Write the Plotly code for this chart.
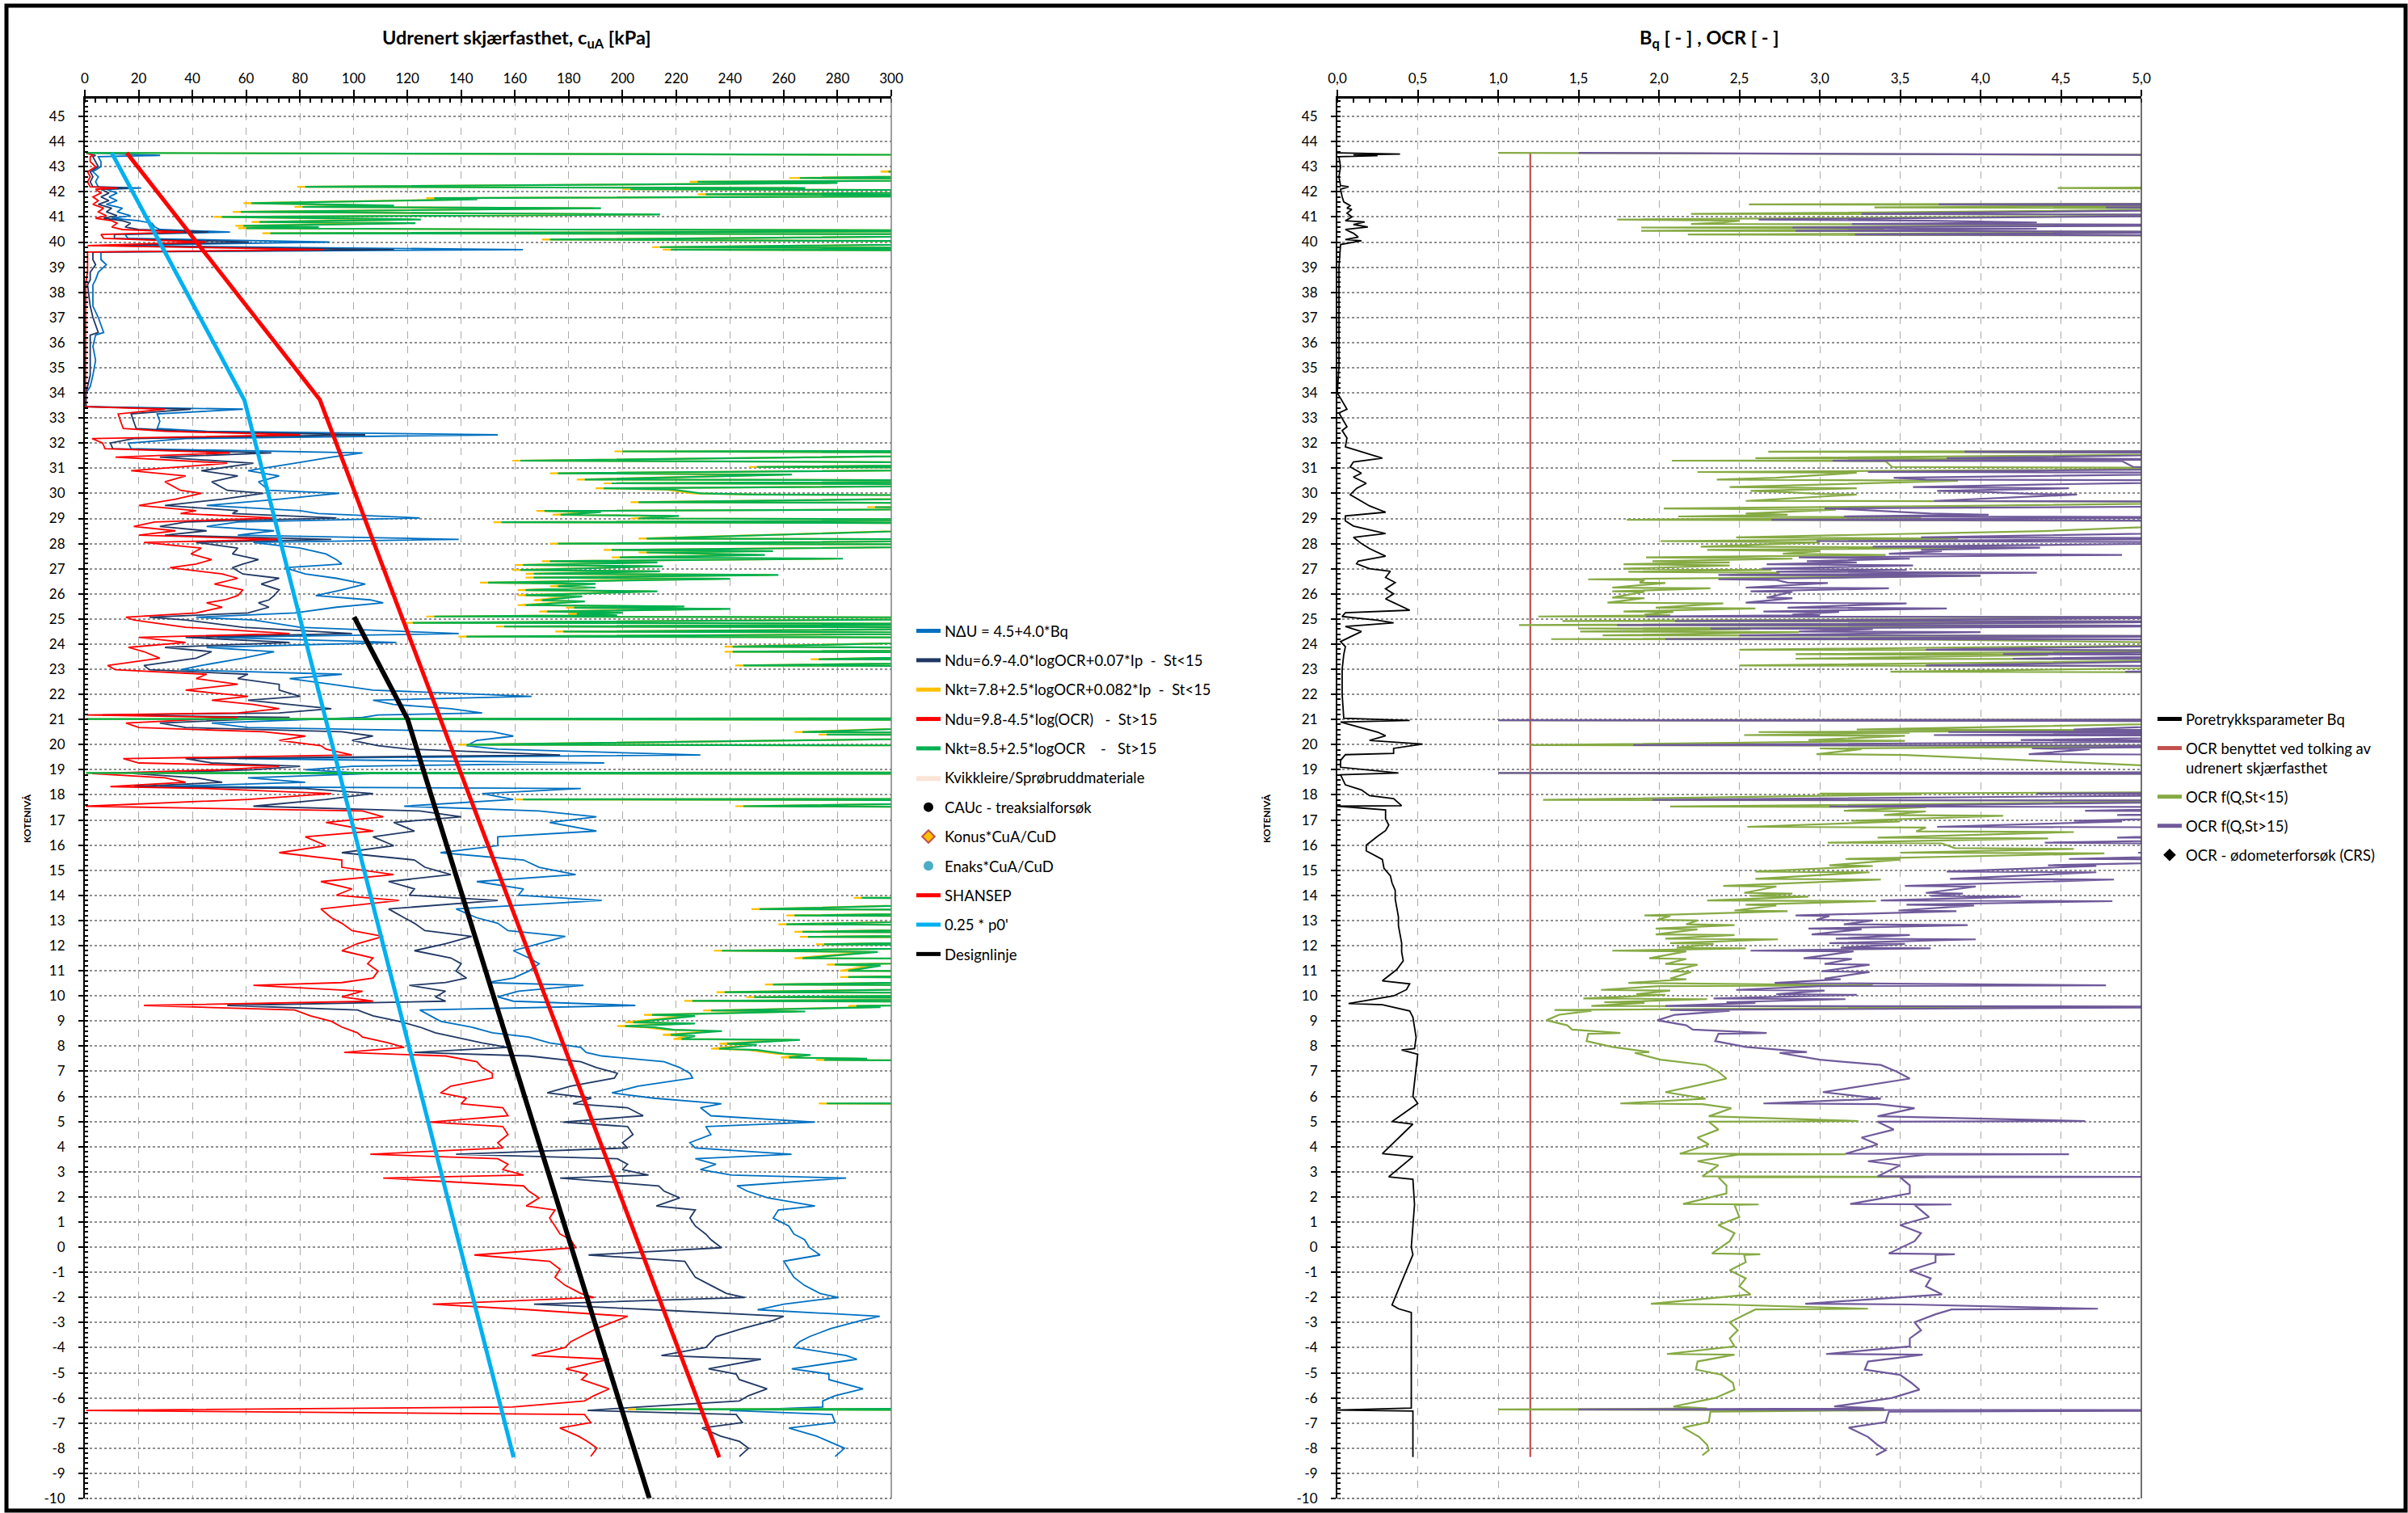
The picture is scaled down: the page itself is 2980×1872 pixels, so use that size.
import plotly.graph_objects as go

# ---------------- LEFT PANEL DATA (undrained shear strength, kPa) ----------------
cu_z = [43.55, 43.45, 43.4, 43.2, 43.0, 42.8, 42.6, 42.4, 42.2, 42.15, 42.1, 41.95, 41.8, 41.65, 41.5,
        41.35, 41.2, 41.05, 40.95, 40.85, 40.75, 40.6, 40.5, 40.4, 40.3, 40.15, 40.0, 39.86, 39.7, 39.6,
        39.3, 39.1, 38.8, 38.5, 38.3, 37.45, 37.0, 36.4, 36.3, 35.85, 35.3, 34.7, 34.25, 34.0, 33.45,
        33.35, 33.16, 32.87, 32.58, 32.47, 32.33, 32.18, 32.0, 31.78, 31.61, 31.44, 31.2, 30.9, 30.69,
        30.46, 30.12, 30.0, 29.77, 29.52, 29.31, 29.2, 29.02, 28.86, 28.68, 28.51, 28.34, 28.17, 28.05,
        27.82, 27.59, 27.36, 27.19, 27.04, 26.79, 26.62, 26.39, 26.16, 25.93, 25.76, 25.64, 25.47, 25.24,
        25.07, 24.96, 24.67, 24.42, 24.27, 24.07, 23.87, 23.7, 23.44, 23.15, 22.98, 22.8, 22.63, 22.4,
        22.17, 21.92, 21.77, 21.6, 21.43, 21.26, 21.18, 21.08, 20.86, 20.68, 20.51, 20.34, 20.17, 19.96,
        19.82, 19.59, 19.44, 19.27, 19.14, 19.0, 18.85, 18.68, 18.5, 18.33, 18.25, 18.05, 17.82, 17.55,
        17.36, 17.13, 16.9, 16.56, 16.33, 15.98, 15.7, 15.41, 15.12, 14.83, 14.55, 14.26, 14.01, 13.8,
        13.46, 13.11, 12.89, 12.6, 12.37, 12.08, 11.8, 11.51, 11.28, 10.99, 10.71, 10.53, 10.42, 10.19,
        9.96, 9.79, 9.62, 9.44, 9.21, 8.99, 8.76, 8.53, 8.36, 8.13, 7.95, 7.75, 7.61, 7.38, 7.15, 6.92,
        6.73, 6.41, 6.14, 5.93, 5.71, 5.55, 5.23, 4.98, 4.8, 4.48, 4.16, 3.95, 3.7, 3.52, 3.3, 3.09,
        2.87, 2.75, 2.44, 2.23, 1.96, 1.64, 1.48, 1.16, 0.84, 0.52, 0.3, -0.02, -0.31, -0.56, -0.88,
        -1.2, -1.52, -1.84, -2.0, -2.27, -2.49, -2.75, -2.91, -3.24, -3.56, -3.77, -3.99, -4.31, -4.46,
        -4.84, -5.05, -5.27, -5.64, -5.91, -6.12, -6.36, -6.5, -6.66, -6.98, -7.2, -7.52, -7.73, -8.0,
        -8.33]

cu_nkt_bq = [0.5, 28, 5, 6, 6, 3, 5, 4, 5, 21, 8, 12, 9, 12, 8,
             14, 12, 17, 10, 20, 25, 26, 28, 54, 15, 16, 91, 7, 163, 6,
             6, 8, 5, 4, 3, 3, 5, 7, 4, 3, 4, 3, 2, 0.5, 0.5,
             58.8, 26.9, 27.9, 26.9, 45.3, 153.6, 37.5, 16.2, 17.2, 103.3, 91.7, 78.1, 60.7, 72.3,
             64.6, 68.5, 94.6, 72.3, 45.3, 80.1, 86.8, 124.6, 56.9, 45.3, 70.4, 56.9, 139.1, 62.7,
             80.1, 89.7, 93.6, 95.6, 74.3, 82.0, 93.6, 104.3, 95.6, 85.9, 106.2, 111.0, 93.6, 78.1,
             41.4, 62.7, 80.1, 139.1, 49.1, 115.9, 45.3, 70.4, 58.8, 43.3, 35.6, 95.6, 76.2, 91.7,
             107.2, 166.2, 107.2, 114.9, 136.2, 147.8, 109.1, 103.3, 47.2, 60.7, 151.6, 159.4, 145.8, 142.0,
             153.6, 229.0, 56.9, 193.2, 99.4, 82.0, 106.2, 60.7, 82.0, 27.9, 184.5, 147.8, 159.4, 118.8,
             169.0, 190.3, 172.9, 190.3, 153.6, 153.6, 132.3, 163.2, 169.0, 182.6, 145.8, 163.2, 161.3, 192.3,
             138.1, 145.8, 153.6, 157.4, 178.7, 169.0, 159.4, 165.2, 169.0, 165.2, 159.4, 149.7, 185.5, 161.3,
             153.6, 159.4, 204.8, 124.6, 128.4, 132.3, 143.9, 151.6, 165.2, 172.9, 184.5, 186.5, 192.3, 215.5, 221.3, 225.1,
             226.1, 205.8, 196.1, 211.6, 236.8, 229.0, 232.9, 271.6, 231.0, 232.9, 225.1, 227.1, 262.9, 227.1, 234.8, 229.0,
             240.6, 283.2, 242.6, 246.4, 254.2, 271.6, 258.0, 256.1, 261.9, 263.8, 267.7, 269.6, 273.5, 260.0, 261.9,
             263.8, 267.7, 273.5, 280.3, 260.0, 250.3, 295.7, 289.0, 277.4, 269.6, 265.8, 263.8, 283.2, 287.2,
             263.0, 276.8, 276.8, 289.5, 279.1, 274.5, 274.5, 240.0, 278.0, 279.1, 261.9, 272.2, 276.8, 282.6,
             279.1]

cu_ndu_lt15 = [0.5, 4, 3, 4, 5, 2, 3, 2, 3, 16, 6, 9, 6, 9, 5,
               10, 8, 12, 7, 14, 17, 15, 20, 46, 11, 11, 61, 5, 115, 3,
               3, 4, 2, 2, 1, 2, 3, 5, 2, 2, 2, 2, 1, 0.3, 0.3,
               39.5, 17.2, 18.2, 19.1, 37.5, 104.3, 18.2, 9.5, 10.4, 69.4, 27.9, 62.7, 43.3, 56.9,
               47.2, 53.0, 66.5, 51.1, 29.8, 56.9, 54.9, 93.6, 37.5, 27.9, 45.3, 29.8, 91.7, 41.4,
               56.9, 54.9, 64.6, 58.8, 54.9, 58.8, 72.3, 65.6, 72.3, 70.4, 68.5, 64.6, 68.5, 60.7,
               24.0, 37.5, 58.8, 99.4, 37.5, 76.2, 29.8, 47.2, 41.4, 22.0, 24.0, 60.7, 56.9, 72.3,
               72.3, 80.1, 60.7, 76.2, 91.7, 72.3, 6.6, 76.2, 27.9, 37.5, 95.6, 107.2, 99.4, 109.1,
               120.7, 176.8, 37.5, 47.2, 80.1, 62.7, 18.2, 41.4, 51.1, 18.2, 82.0, 107.2, 89.7, 62.7,
               124.6, 140.0, 114.9, 122.6, 107.2, 114.9, 95.6, 122.6, 126.5, 136.2, 113.0, 122.6, 120.7, 153.6,
               113.0, 118.8, 122.6, 126.5, 143.9, 134.2, 122.6, 136.2, 140.0, 138.1, 142.0, 134.2, 120.7, 134.2,
               130.4, 134.2, 53.0, 101.4, 107.2, 116.8, 124.6, 130.4, 138.1, 147.8, 157.4, 122.6, 165.2, 184.5, 190.3, 198.1,
               197.0, 180.7, 172.0, 188.4, 181.6, 201.9, 207.7, 177.8, 201.9, 203.9, 200.0, 201.9, 138.1, 198.1, 201.9, 200.0,
               209.7, 176.8, 213.5, 215.5, 221.3, 212.6, 227.1, 225.1, 227.1, 231.0, 232.9, 236.8, 187.4, 223.2, 225.1,
               227.1, 232.9, 238.7, 245.5, 167.1, 211.6, 260.0, 256.1, 244.5, 234.8, 232.9, 231.0, 214.5, 251.5,
               232.0, 242.3, 243.5, 253.8, 246.9, 243.5, 206.0, 187.0, 242.3, 244.6, 229.6, 236.5, 243.5, 246.9,
               243.5]

cu_ndu_gt15 = [0.5, 3, 2, 2, 4, 1, 2, 1, 2, 12, 4, 6, 3, 5, 3,
               7, 5, 8, 4, 10, 12, 10, 14, 37, 6, 7, 45, 1, 89, 1,
               1, 1, 1, 0.5, 0.3, 0.3, 0.3, 0.3, 0.3, 0.3, 0.3, 0.3, 0.2, 0.2, 0.2,
               29.8, 12.4, 13.3, 14.3, 29.8, 80.1, 2.7, 6.6, 7.5, 54.0, 11.4, 53.0, 17.2, 37.5,
               29.8, 35.6, 43.3, 33.7, 20.1, 41.4, 35.6, 70.4, 25.9, 18.2, 33.7, 20.1, 72.3, 22.0,
               43.3, 39.5, 47.2, 41.4, 31.7, 51.1, 56.9, 48.2, 58.8, 56.9, 52.0, 45.3, 51.1, 41.4,
               15.3, 18.2, 37.5, 76.2, 20.1, 37.5, 16.2, 22.0, 27.9, 8.5, 11.4, 45.3, 41.4, 56.9,
               37.5, 60.7, 47.2, 62.7, 72.3, 56.9, 0.8, 56.9, 15.3, 20.1, 66.5, 82.0, 72.3, 87.8,
               89.7, 99.4, 14.3, 20.1, 72.3, 51.1, 2.7, 29.8, 37.5, 9.5, 45.3, 91.7, 60.7, 0.4,
               103.3, 111.0, 89.7, 107.2, 82.0, 89.7, 72.3, 95.6, 95.6, 114.9, 87.8, 99.4, 93.6, 116.8,
               87.8, 91.7, 95.6, 99.4, 111.0, 101.4, 95.6, 107.2, 105.2, 109.1, 107.2, 95.6, 62.7, 103.3,
               95.6, 107.2, 22.0, 78.1, 83.9, 91.7, 95.6, 101.4, 103.3, 113.0, 118.8, 96.5, 134.2, 145.8, 147.8, 151.6,
               151.6, 136.2, 132.3, 142.0, 140.0, 155.5, 157.4, 128.4, 155.5, 157.4, 153.6, 155.5, 106.2, 153.6, 157.4, 155.5,
               163.2, 111.0, 163.2, 165.2, 169.0, 164.2, 174.9, 172.9, 174.9, 176.8, 180.7, 182.6, 144.9, 172.9, 176.8,
               174.9, 178.7, 184.5, 189.4, 129.4, 165.2, 201.9, 198.1, 190.3, 184.5, 180.7, 178.7, 166.2, 195.0,
               179.0, 187.0, 184.8, 195.0, 189.4, 185.9, 159.0, 0.5, 185.9, 188.2, 176.7, 183.6, 187.0, 190.5,
               188.2]

# Nkt-based profiles (values above 300 run off the chart)
nkt_z = [43.55, 43.45, 42.8, 42.75, 42.55, 42.5, 42.4, 42.35, 42.2, 42.15, 42.1, 42.05, 41.9, 41.85,
         41.75, 41.7, 41.55, 41.45, 41.4, 41.35, 41.2, 41.1, 41.0, 40.9, 40.8, 40.75, 40.65, 40.6, 40.55,
         40.5, 40.45, 40.35, 40.3, 40.1, 40.0, 39.8, 39.75, 39.7, 39.65,
         31.7, 31.67, 31.6, 31.3, 31.25, 31.2, 31.05, 31.0, 30.8, 30.75, 30.55, 30.5, 30.4, 30.35, 30.2, 30.15,
         30.0, 29.95, 29.9, 29.65, 29.6, 29.45, 29.4, 29.3, 29.25, 29.15, 29.1, 29.0, 28.95, 28.85, 28.8,
         28.2, 28.15, 28.0, 27.95, 27.75, 27.7, 27.65, 27.55, 27.45, 27.4, 27.3, 27.25, 27.15, 27.1, 26.95,
         26.9, 26.8, 26.75, 26.65, 26.6, 26.45, 26.4, 26.3, 26.25, 26.15, 26.1, 25.95, 25.9, 25.75, 25.7,
         25.55, 25.5, 25.45, 25.4, 25.3, 25.25, 25.2, 25.15, 25.1, 25.05, 24.85, 24.8, 24.7, 24.65, 24.5,
         24.45, 24.3, 24.25, 23.9, 23.8, 23.7, 23.65, 23.4, 23.35, 23.15, 23.1, 21.05, 21.02, 20.98, 20.5, 20.45,
         20.4, 20.35, 20.0, 19.95, 18.9, 18.87, 18.83, 17.85, 17.82, 17.78, 17.55, 17.5, 13.93, 13.9, 13.85, 13.45, 13.4,
         13.2, 13.15, 12.85, 12.8, 12.55, 12.5, 12.35, 12.3, 12.05, 12.0, 11.8, 11.75, 11.5, 11.45, 11.25,
         11.2, 11.0, 10.95, 10.75, 10.7, 10.45, 10.4, 10.15, 10.1, 9.95, 9.9, 9.8, 9.75, 9.6, 9.55, 9.42,
         9.38, 9.25, 9.2, 8.95, 8.9, 8.8, 8.75, 8.65, 8.6, 8.45, 8.4, 8.28, 8.25, 8.1, 8.05, 7.9, 7.85,
         7.7, 7.65, 7.55, 7.5, 7.45, 7.4, 5.75, 5.72, 5.68, -6.42, -6.45, -6.5, -8.33]

cu_nkt_gt15 = [0.5, 400, 299, 400, 266, 400, 228, 280, 82, 268, 203, 400, 231, 400,
               130, 146, 62, 115, 81, 192, 58, 214, 51, 125, 65, 123, 59, 87, 60,
               174, 400, 69, 400, 173, 400, 214, 400, 218, 400,
               400, 200, 400, 162, 248, 400, 250, 400, 176, 263, 186, 400, 196, 400, 193, 219,
               229, 250, 400, 206, 400, 294, 400, 171, 192, 177, 221, 206, 400, 155, 400,
               209, 400, 176, 400, 196, 256, 209, 253, 199, 282, 173, 213, 163, 215, 162,
               214, 167, 258, 167, 240, 150, 190, 176, 190, 164, 213, 164, 185, 170, 186,
               164, 223, 182, 240, 172, 200, 183, 198, 130, 400, 122, 400, 156, 400, 178,
               400, 142, 400, 241, 400, 241, 400, 273, 400, 245, 400, 400, 0.5, 400, 267, 400,
               276, 400, 142, 400, 400, 0.5, 400, 400, 163, 400, 245, 400, 400, 289, 400, 251, 400,
               264, 400, 261, 400, 267, 400, 269, 400, 275, 400, 237, 295, 267, 400, 279,
               296, 284, 400, 284, 400, 256, 400, 238, 400, 249, 400, 226, 400, 287, 296, 233,
               268, 211, 227, 204, 227, 201, 212, 219, 237, 218, 227, 222, 266, 239, 250, 236, 250,
               260, 270, 262, 291, 275, 400, 400, 276, 400, 400, 205, 400, 400]

cu_nkt_lt15 = [0.5, 400, 296, 400, 262, 400, 225, 277, 79, 265, 200, 400, 228, 400,
               127, 143, 59, 112, 78, 189, 55, 211, 48, 122, 62, 120, 56, 84, 57,
               171, 400, 66, 400, 170, 400, 211, 400, 215, 400,
               400, 197, 400, 159, 245, 400, 247, 400, 173, 260, 183, 400, 193, 400, 190, 216,
               226, 247, 400, 203, 400, 291, 400, 168, 189, 174, 218, 203, 400, 152, 400,
               206, 400, 173, 400, 193, 253, 206, 250, 196, 279, 170, 210, 160, 212, 159,
               211, 164, 255, 164, 237, 147, 187, 173, 187, 161, 210, 161, 182, 167, 183,
               161, 220, 179, 237, 169, 197, 180, 195, 127, 400, 119, 400, 153, 400, 175,
               400, 139, 400, 238, 400, 238, 400, 270, 400, 242, 400, 400, 0.5, 400, 264, 400,
               273, 400, 139, 400, 400, 0.5, 400, 400, 160, 400, 242, 400, 400, 286, 400, 248, 400,
               261, 400, 258, 400, 264, 400, 266, 400, 272, 400, 234, 292, 264, 400, 276,
               293, 281, 400, 281, 400, 253, 400, 235, 400, 246, 400, 223, 400, 284, 293, 230,
               265, 208, 224, 201, 224, 198, 209, 216, 234, 215, 224, 219, 263, 236, 247, 233, 247,
               257, 267, 259, 288, 272, 400, 400, 273, 400, 400, 202, 400, 400]

# Interpreted design lines
shansep_z = [43.55, 33.73, -8.36]
shansep_cu = [15.6, 87.4, 236.0]
p0_z = [43.55, 33.7, -8.36]
p0_cu = [10.0, 59.4, 159.5]
design_z = [25.08, 21.0, -10.0]
design_cu = [100.2, 120.1, 210.0]

# ---------------- RIGHT PANEL DATA (Bq, OCR) ----------------
bq_z = [43.55, 43.5, 43.47, 43.44, 43.4, 43.0, 42.6, 42.25, 42.2, 42.1, 41.8, 41.6, 41.45, 41.35,
        41.3, 41.15, 41.0, 40.85, 40.8, 40.7, 40.6, 40.5, 40.35, 40.2, 40.1, 40.05, 39.9, 39.0, 37.0,
        35.0, 34.0, 33.35, 33.2, 32.65, 32.5, 32.2, 31.85, 31.65, 31.4, 31.25, 31.05, 30.8, 30.65, 30.4,
        30.2, 29.95, 29.7, 29.5, 29.25, 29.1, 28.9, 28.7, 28.4, 28.25, 28.0, 27.8, 27.5, 27.3, 27.2, 27.0,
        26.9, 26.65, 26.45, 26.2, 26.0, 25.8, 25.65, 25.5, 25.35, 25.25, 25.1, 24.95, 24.85, 24.7, 24.5,
        24.35, 24.1, 23.9, 23.58, 23.0, 22.0, 21.05, 20.96, 20.9, 20.6, 20.5, 20.35, 20.17, 20.02, 19.85,
        19.65, 19.6, 19.37, 19.1, 18.87, 18.8, 18.4, 18.2, 17.97, 17.85, 17.57, 17.55, 17.4, 17.04, 16.8,
        16.58, 16.35, 16.0, 15.77, 15.43, 15.08, 14.78, 14.5, 14.2, 13.85, 13.5, 13.15, 12.8, 12.45, 12.1,
        11.75, 11.4, 11.05, 10.6, 10.48, 10.25, 10.0, 9.7, 9.65, 9.55, 9.4, 9.15, 8.8, 8.35, 7.9, 7.85,
        7.68, 7.1, 6.0, 5.72, 5.0, 4.9, 3.72, 3.6, 2.8, 2.7, 1.7, 0.0, -0.3, -2.3, -2.45, -2.6, -4.3,
        -6.4, -6.48, -6.52, -8.35]
bq = [0.0, 0.39, 0.1, 0.25, 0.01, 0.02, 0.01, 0.02, 0.07, 0.02, 0.03, 0.04, 0.08, 0.06,
      0.09, 0.06, 0.09, 0.05, 0.17, 0.1, 0.19, 0.05, 0.1, 0.13, 0.05, 0.15, 0.02, 0.01, 0.01,
      0.01, 0.0, 0.06, 0.01, 0.06, 0.03, 0.06, 0.05, 0.15, 0.28, 0.1, 0.08, 0.15, 0.1, 0.18,
      0.12, 0.08, 0.15, 0.2, 0.3, 0.05, 0.05, 0.1, 0.3, 0.1, 0.15, 0.2, 0.3, 0.13, 0.12, 0.2,
      0.33, 0.3, 0.36, 0.3, 0.35, 0.3, 0.35, 0.4, 0.45, 0.05, 0.03, 0.25, 0.35, 0.05, 0.15,
      0.1, 0.02, 0.05, 0.04, 0.03, 0.03, 0.04, 0.45, 0.02, 0.2, 0.25, 0.3, 0.2, 0.53, 0.35,
      0.35, 0.05, 0.02, 0.02, 0.38, 0.02, 0.05, 0.15, 0.2, 0.35, 0.4, 0.0, 0.3, 0.3, 0.32,
      0.3, 0.25, 0.18, 0.18, 0.28, 0.29, 0.33, 0.34, 0.36, 0.36, 0.37, 0.38, 0.38, 0.39, 0.4,
      0.4, 0.41, 0.37, 0.28, 0.45, 0.43, 0.35, 0.07, 0.28, 0.35, 0.45, 0.47, 0.48, 0.49, 0.48, 0.4,
      0.5, 0.49, 0.47, 0.5, 0.34, 0.47, 0.28, 0.47, 0.32, 0.47, 0.48, 0.46, 0.47, 0.34, 0.38, 0.46, 0.46,
      0.46, 0.0, 0.47, 0.47]

ocr_used_z = [43.55, -8.35]
ocr_used = [1.2, 1.2]

ocr_z = [43.55, 43.45, 42.2, 42.15, 42.1, 41.53, 41.5, 41.45, 41.38, 41.33, 41.12, 41.08, 40.9, 40.85, 40.78,
         40.72, 40.68, 40.58, 40.53, 40.45, 40.4, 40.3, 40.25,
         31.69, 31.66, 31.6, 31.4, 31.35, 31.3, 31.28, 31.05, 31.0, 30.85, 30.82, 30.62, 30.55, 30.5, 30.35,
         30.25, 30.2, 30.1, 30.05, 29.98, 29.95, 29.7, 29.66, 29.5, 29.4, 29.35, 29.2, 29.15, 29.08,
         29.05, 28.95, 28.9, 28.5, 28.25, 28.2, 28.1, 28.05, 27.88, 27.84, 27.75, 27.7, 27.6, 27.55,
         27.45, 27.4, 27.3, 27.25, 27.18, 27.13, 27.0, 26.95, 26.88, 26.84, 26.75, 26.72, 26.58, 26.55,
         26.45, 26.43, 26.25, 26.22, 26.1, 26.08, 25.85, 25.83, 25.65, 25.62, 25.45, 25.42, 25.3, 25.28,
         25.18, 25.15, 25.1, 25.07, 24.92, 24.9, 24.76, 24.73, 24.62, 24.6, 24.5, 24.48, 24.35, 24.32,
         24.2, 24.18, 24.0, 23.78, 23.74, 23.6, 23.57, 23.42, 23.4, 23.15, 23.12, 22.9, 22.87, 21.0, 20.97,
         20.93, 20.6, 20.56, 20.5, 20.47, 20.38, 20.35, 20.18, 20.15, 19.98, 19.95, 19.85, 19.82, 19.62,
         19.59, 18.9, 18.87, 18.83, 18.13, 18.1, 18.05, 18.02, 17.8, 17.77, 17.54, 17.51, 17.37, 17.34, 17.2, 17.17,
         16.97, 16.94, 16.73, 16.7, 16.55, 16.52, 16.3, 16.27, 16.1, 16.07, 15.88, 15.85, 15.7, 15.67,
         15.45, 15.42, 15.2, 15.17, 14.95, 14.92, 14.66, 14.63, 14.38, 14.35, 14.1, 14.07, 13.98, 13.95,
         13.8, 13.77, 13.63, 13.6, 13.4, 13.37, 13.2, 13.18, 13.03, 13.0, 12.85, 12.82, 12.68, 12.65,
         12.45, 12.42, 12.28, 12.25, 12.1, 12.07, 11.92, 11.89, 11.8, 11.77, 11.5, 11.47, 11.27, 11.24,
         10.98, 10.95, 10.69, 10.66, 10.52, 10.49, 10.42, 10.39, 10.24, 10.21, 10.07, 10.04, 9.9, 9.87,
         9.75, 9.72, 9.6, 9.57, 9.44, 9.41, 9.25, 9.03, 8.83, 8.66, 8.52, 8.49, 8.2, 7.97, 7.77, 7.73,
         7.46, 7.25, 6.98, 6.71, 6.44, 6.17, 5.91, 5.72, 5.69, 5.53, 5.21, 5.02, 4.99, 4.68, 4.36, 4.09,
         3.72, 3.7, 3.68, 3.42, 3.26, 2.82, 2.8, 2.78, 2.46, 2.14, 1.72, 1.7, 1.68, 1.2, 0.88, 0.56, 0.24,
         -0.25, -0.28, -0.31, -0.6, -0.92, -1.24, -1.56, -1.88, -2.25, -2.28, -2.45, -2.48, -2.67, -2.99,
         -3.31, -3.63, -3.95, -4.25, -4.28, -4.55, -4.87, -5.08, -5.4, -5.67, -6.0, -6.34, -6.42, -6.46,
         -6.49, -6.55, -6.96, -7.18, -7.55, -7.87, -8.08, -8.28]

ocr_lt15 = [1.0, 6, 6, 4.48, 6, 6, 2.56, 6, 3.34, 6, 2.2, 6, 1.74, 2.5, 2.4,
            2.2, 6, 1.89, 3.4, 1.89, 6, 2.18, 6,
            6, 2.68, 6, 2.6, 6, 2.08, 3.41, 3.45, 6, 2.24, 3.23, 2.73, 2.36, 3.86, 3.0,
            2.44, 3.23, 2.57, 2.8, 3.0, 3.23, 2.54, 6, 3.92, 2.03, 3.1, 2.54, 2.8, 2.12,
            3.63, 1.8, 6, 4.39, 2.48, 3.86, 2.01, 3.0, 2.26, 4.15, 2.3, 3.0, 2.77, 3.41,
            1.92, 2.83, 1.96, 2.44, 1.78, 2.44, 1.78, 2.7, 1.81, 2.75, 2.44, 4.0, 1.56, 1.91,
            1.88, 2.04, 1.71, 2.32, 1.71, 1.91, 1.71, 1.91, 1.68, 2.4, 1.98, 2.6, 1.78, 2.09,
            1.91, 2.07, 1.25, 6, 1.4, 6, 1.13, 6, 1.5, 2.57, 1.51, 2.87, 1.65, 6,
            1.33, 3.66, 6, 2.5, 6, 2.85, 4.42, 2.85, 6, 2.5, 6, 3.44, 6, 6, 1.0,
            6, 3.23, 6, 2.62, 3.56, 2.53, 3.53, 2.93, 3.53, 1.2, 6, 3.0, 3.26, 2.98,
            3.53, 6, 1.0, 6, 6, 5.0, 3.0, 3.63, 1.28, 6, 2.07, 3.66, 3.15, 3.66, 3.4, 4.14,
            3.2, 3.5, 2.55, 3.66, 3.6, 4.58, 3.36, 4.42, 3.05, 3.76, 3.84, 4.58, 3.5, 4.77,
            3.16, 3.5, 3.06, 3.33, 2.6, 3.31, 2.6, 3.38, 2.4, 2.73, 2.53, 2.83, 2.57, 2.93,
            2.3, 3.35, 2.54, 2.73, 2.47, 2.8, 1.91, 2.07, 1.99, 2.24, 2.17, 2.47, 1.98, 2.24,
            1.98, 2.47, 2.04, 2.74, 2.07, 2.34, 2.11, 2.54, 1.71, 2.17, 1.94, 2.17, 2.04, 2.24,
            2.07, 2.2, 2.07, 2.17, 1.81, 2.17, 3.33, 2.0, 1.64, 2.07, 1.86, 2.04, 1.53, 2.3,
            1.66, 1.91, 1.58, 4.58, 1.35, 1.58, 1.38, 1.3, 1.43, 1.46, 1.76, 1.56, 1.55, 1.71, 1.94, 1.85,
            2.01, 2.29, 2.37, 2.42, 2.24, 2.04, 2.29, 1.76, 2.27, 2.45, 2.31, 3.24, 2.31, 2.37, 2.24, 2.31,
            2.13, 3.16, 2.49, 2.24, 2.37, 2.27, 3.66, 2.37, 2.42, 2.42, 2.15, 2.62, 2.47, 2.5, 2.37, 2.47, 2.44,
            2.33, 2.63, 2.53, 2.54, 2.44, 2.54, 2.5, 2.57, 1.95, 2.4, 3.3, 2.6, 2.54, 2.44,
            2.49, 2.44, 2.47, 2.05, 2.47, 2.24, 2.23, 2.39, 2.46, 2.47, 2.35, 2.09, 2.3, 1.0,
            3.41, 2.32, 2.31, 2.15, 2.25, 2.3, 2.31, 2.27]

ocr_gt15 = [1.5, 6, 6, 6, 6, 6, 3.74, 6, 4.78, 6, 3.26, 6, 2.62, 3.69, 4.35,
            3.2, 6, 2.83, 4.35, 2.85, 6, 3.22, 6,
            6, 3.9, 6, 3.79, 6, 3.08, 4.88, 4.95, 6, 3.3, 6, 3.46, 3.66, 6, 4.34,
            3.58, 4.55, 3.73, 4.06, 4.32, 4.6, 3.71, 6, 6, 3.03, 3.23, 3.69, 4.05, 3.15,
            6, 2.7, 6, 6, 3.63, 6, 2.98, 6, 3.33, 4.37, 3.63, 3.76, 3.43, 4.88,
            2.87, 3.56, 2.92, 3.23, 2.67, 3.58, 2.64, 3.54, 2.73, 4.35, 2.37, 4.0, 2.37, 2.73,
            2.8, 3.05, 2.54, 3.43, 2.57, 2.83, 2.67, 2.83, 2.54, 3.54, 2.8, 3.79, 2.65, 3.12,
            2.83, 3.0, 1.92, 6, 2.1, 6, 1.74, 6, 2.32, 3.33, 2.87, 4.0, 2.5, 6,
            2.04, 6, 6, 3.66, 6, 4.14, 6, 4.2, 6, 3.66, 6, 4.9, 6, 6, 1.0,
            6, 4.58, 6, 3.8, 6, 3.71, 6, 4.25, 6, 1.84, 6, 4.32, 4.68, 4.3,
            6, 6, 1.0, 6, 6, 6, 4.35, 6, 1.96, 6, 3.06, 6, 4.65, 6, 4.85, 6,
            4.58, 4.88, 3.73, 6, 6, 6, 4.85, 6, 4.4, 4.98, 6, 6, 4.98, 6,
            4.55, 6, 4.42, 4.72, 3.79, 4.72, 3.81, 4.83, 3.53, 3.97, 3.66, 3.89, 3.69, 4.25,
            3.38, 4.82, 3.54, 3.96, 3.49, 3.85, 2.85, 3.06, 2.98, 3.33, 3.15, 3.92, 2.93, 3.26,
            2.95, 3.56, 3.1, 3.97, 3.06, 3.53, 3.13, 3.69, 2.57, 3.21, 2.9, 3.2, 3.03, 3.31,
            3.01, 3.31, 3.03, 3.13, 2.72, 3.33, 4.78, 3.0, 2.48, 3.03, 2.73, 3.23, 2.34, 3.16,
            2.42, 2.6, 2.04, 6, 2.07, 2.44, 2.1, 1.99, 2.17, 2.21, 2.67, 2.37, 2.35, 2.54, 2.92, 2.75,
            3.0, 3.38, 3.48, 3.56, 3.3, 3.02, 3.38, 2.65, 3.36, 3.59, 3.36, 4.65, 3.36, 3.46, 3.26, 3.36,
            3.16, 4.55, 3.66, 3.3, 3.5, 3.36, 5.0, 3.5, 3.56, 3.56, 3.19, 3.82, 3.59, 3.68, 3.5, 3.63, 3.59,
            3.43, 3.84, 3.72, 3.72, 3.56, 3.69, 3.66, 3.76, 2.91, 3.56, 4.73, 3.82, 3.72, 3.59,
            3.63, 3.56, 3.56, 3.04, 3.64, 3.3, 3.28, 3.5, 3.57, 3.62, 3.45, 3.09, 3.4, 1.5,
            6, 3.43, 3.41, 3.18, 3.3, 3.36, 3.41, 3.35]

# Axis tick labels
kote_ticks = list(range(-10, 46))
cu_ticks = list(range(0, 301, 20))
ocr_ticks = [0.0, 0.5, 1.0, 1.5, 2.0, 2.5, 3.0, 3.5, 4.0, 4.5, 5.0]
ocr_ticktext = ["0,0", "0,5", "1,0", "1,5", "2,0", "2,5", "3,0", "3,5", "4,0", "4,5", "5,0"]

# ---------------- FIGURE ----------------
W, H = 2980, 1872
FONT = "Lato"
fig = go.Figure()

def line_trace(x, y, name, color, width, xa, ya, legend, group):
    return go.Scatter(x=x, y=y, mode="lines", name=name, line=dict(color=color, width=width),
                      xaxis=xa, yaxis=ya, legend=legend, legendgroup=group, hoverinfo="skip")

fig.add_trace(line_trace(cu_nkt_bq, cu_z, "NΔU = 4.5+4.0*Bq", "#0070C0", 1.8, "x", "y", "legend", "a1"))
fig.add_trace(line_trace(cu_ndu_lt15, cu_z, "Ndu=6.9-4.0*logOCR+0.07*Ip  -  St<15", "#203864", 1.8, "x", "y", "legend", "a2"))
fig.add_trace(line_trace(cu_nkt_lt15, nkt_z, "Nkt=7.8+2.5*logOCR+0.082*Ip  -  St<15", "#FFC000", 2.2, "x", "y", "legend", "a3"))
fig.add_trace(line_trace(cu_ndu_gt15, cu_z, "Ndu=9.8-4.5*log(OCR)   -  St>15", "#FF0000", 1.8, "x", "y", "legend", "a4"))
fig.add_trace(line_trace(cu_nkt_gt15, nkt_z, "Nkt=8.5+2.5*logOCR    -   St>15", "#00B050", 2.2, "x", "y", "legend", "a5"))
fig.add_trace(go.Scatter(x=[None], y=[None], mode="lines", fill="toself", fillcolor="#FBE3D6",
                         line=dict(width=0, color="#FBE3D6"), name="Kvikkleire/Sprøbruddmateriale",
                         xaxis="x", yaxis="y", legend="legend", legendgroup="a6"))
fig.add_trace(go.Scatter(x=[None], y=[None], mode="markers", name="CAUc - treaksialforsøk",
                         marker=dict(symbol="circle", size=11, color="black"),
                         xaxis="x", yaxis="y", legend="legend", legendgroup="a7"))
fig.add_trace(go.Scatter(x=[None], y=[None], mode="markers", name="Konus*CuA/CuD",
                         marker=dict(symbol="diamond", size=12, color="#FFC000", line=dict(color="#C0504D", width=1.5)),
                         xaxis="x", yaxis="y", legend="legend", legendgroup="a8"))
fig.add_trace(go.Scatter(x=[None], y=[None], mode="markers", name="Enaks*CuA/CuD",
                         marker=dict(symbol="circle", size=11, color="#4BACC6"),
                         xaxis="x", yaxis="y", legend="legend", legendgroup="a9"))
fig.add_trace(line_trace(shansep_cu, shansep_z, "SHANSEP", "#FF0000", 5, "x", "y", "legend", "b1"))
fig.add_trace(line_trace(p0_cu, p0_z, "0.25 * p0'", "#00B0F0", 5, "x", "y", "legend", "b2"))
fig.add_trace(line_trace(design_cu, design_z, "Designlinje", "#000000", 6, "x", "y", "legend", "b3"))

fig.add_trace(line_trace(bq, bq_z, "Poretrykksparameter Bq", "#000000", 1.8, "x2", "y2", "legend2", "c1"))
fig.add_trace(line_trace(ocr_used, ocr_used_z, "OCR benyttet ved tolking av<br>udrenert skjærfasthet", "#C0504D", 2.2, "x2", "y2", "legend2", "c2"))
fig.add_trace(line_trace(ocr_lt15, ocr_z, "OCR f(Q,St<15)", "#86AA44", 2.2, "x2", "y2", "legend2", "c3"))
fig.add_trace(line_trace(ocr_gt15, ocr_z, "OCR f(Q,St>15)", "#6F5A9A", 2.2, "x2", "y2", "legend2", "c4"))
fig.add_trace(go.Scatter(x=[None], y=[None], mode="markers", name="OCR - ødometerforsøk (CRS)",
                         marker=dict(symbol="diamond", size=11, color="black"),
                         xaxis="x2", yaxis="y2", legend="legend2", legendgroup="c5"))

ytop, ybot = 122, 1854
ydom = [1 - ybot / H, 1 - ytop / H]
tickfont = dict(family=FONT, size=17, color="black")

common_x = dict(side="top", showline=True, linecolor="black", linewidth=2.5, ticks="outside",
                ticklen=8, tickwidth=1.5, tickcolor="black", showgrid=True, gridcolor="#ABABAB",
                griddash="dash", gridwidth=1.2, zeroline=False, tickfont=tickfont, automargin=False,
                ticklabelstandoff=1, fixedrange=True)
common_y = dict(range=[-10, 45.71], tickmode="array", tickvals=kote_ticks,
                ticktext=[str(v) for v in kote_ticks], showline=True, linecolor="black", linewidth=2,
                ticks="outside", ticklen=6, tickwidth=1.5, tickcolor="black", showgrid=True,
                gridcolor="#8E8E8E", griddash="dot", gridwidth=1.8, zeroline=False, tickfont=tickfont,
                automargin=False, ticklabelstandoff=13,
                minor=dict(dtick=0.2, ticks="inside", ticklen=4, tickcolor="black", showgrid=False))

fig.update_layout(
    width=W, height=H, margin=dict(l=0, r=0, t=0, b=0, pad=0),
    paper_bgcolor="white", plot_bgcolor="white",
    font=dict(family=FONT, size=17, color="black"),
    xaxis=dict(domain=[105 / W, 1103 / W], range=[0, 300], tickmode="array", tickvals=cu_ticks,
               ticktext=[str(v) for v in cu_ticks], anchor="y",
               minor=dict(dtick=4, ticks="inside", ticklen=5, tickcolor="black", showgrid=False), **common_x),
    yaxis=dict(domain=ydom, anchor="x", **common_y),
    xaxis2=dict(domain=[1655 / W, 2650 / W], range=[0, 5], tickmode="array", tickvals=ocr_ticks,
                ticktext=ocr_ticktext, anchor="y2",
                minor=dict(dtick=0.1, ticks="inside", ticklen=5, tickcolor="black", showgrid=False), **common_x),
    yaxis2=dict(domain=ydom, anchor="x2", **common_y),
    showlegend=True,
    legend=dict(x=1129 / W, y=1 - 762 / H, xanchor="left", yanchor="top", bgcolor="rgba(0,0,0,0)",
                font=dict(family=FONT, size=18.5, color="black"), tracegroupgap=9.3,
                itemsizing="constant", traceorder="grouped"),
    legend2=dict(x=2665 / W, y=1 - 871 / H, xanchor="left", yanchor="top", bgcolor="rgba(0,0,0,0)",
                 font=dict(family=FONT, size=18.5, color="black"), tracegroupgap=9,
                 itemsizing="constant", traceorder="grouped", valign="top"),
)

# plot-area frame on right/bottom sides (thin grey like the original)
for xr, yr, col in (("x domain", "y domain", "#7F7F7F"), ("x2 domain", "y2 domain", "#404040")):
    fig.add_shape(type="line", xref=xr, yref=yr, x0=1, x1=1, y0=0, y1=1, line=dict(color=col, width=1.5))
    fig.add_shape(type="line", xref=xr, yref=yr, x0=0, x1=1, y0=0, y1=0, line=dict(color="#7F7F7F", width=2, dash="dot"))

# outer black frame
fig.add_shape(type="rect", xref="paper", yref="paper", x0=8 / W, x1=2977 / W, y0=1 - 1869 / H, y1=1 - 7 / H,
              line=dict(color="black", width=5), fillcolor="rgba(0,0,0,0)", layer="above")

fig.add_annotation(text="<b>Udrenert skjærfasthet, c<sub>uA</sub> [kPa]</b>", x=639 / W, y=1 - 48 / H,
                   xref="paper", yref="paper", xanchor="center", yanchor="middle", showarrow=False,
                   font=dict(family=FONT, size=23.5, color="black"))
fig.add_annotation(text="<b>B<sub>q</sub> [ - ] , OCR [ - ]</b>", x=2115 / W, y=1 - 48 / H,
                   xref="paper", yref="paper", xanchor="center", yanchor="middle", showarrow=False,
                   font=dict(family=FONT, size=23.5, color="black"))
for xpix in (34, 1568):
    fig.add_annotation(text="<b>KOTENIVÅ</b>", x=xpix / W, y=1 - 1013 / H, xref="paper", yref="paper",
                       xanchor="center", yanchor="middle", showarrow=False, textangle=-90,
                       font=dict(family=FONT, size=12, color="black"))

fig.write_html("out.html", config={"displayModeBar": False},
               post_script="document.body.style.margin='0';document.body.style.padding='0';")
